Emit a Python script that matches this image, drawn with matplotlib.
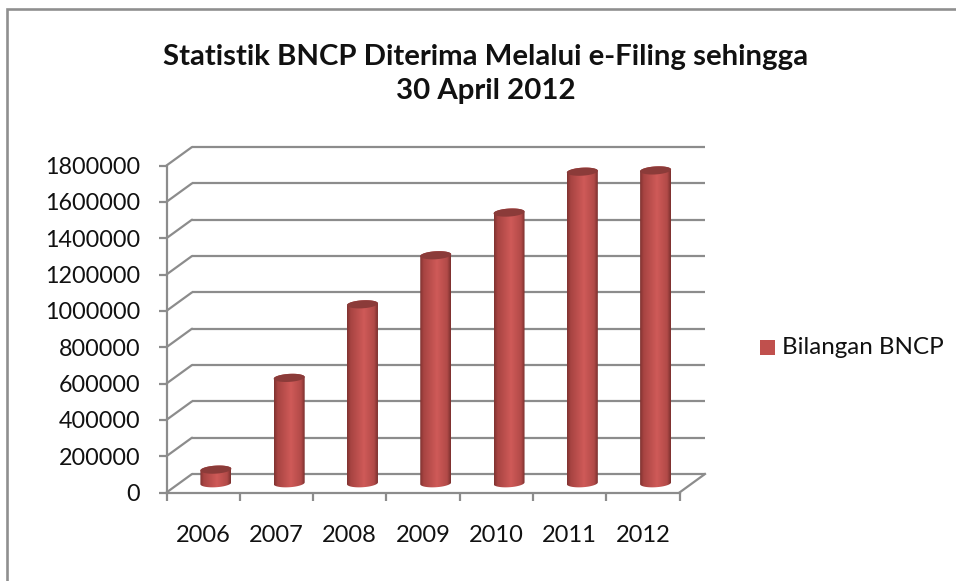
import numpy as np
import matplotlib
matplotlib.use("Agg")
import matplotlib.pyplot as plt
from matplotlib.colors import LinearSegmentedColormap
from matplotlib.patches import PathPatch, Polygon, Rectangle
from matplotlib.path import Path

years = ["2006", "2007", "2008", "2009", "2010", "2011", "2012"]
values = [75000, 580000, 985000, 1255000, 1490000, 1715000, 1722000]
yticks = [0, 200000, 400000, 600000, 800000, 1000000, 1200000, 1400000, 1600000, 1800000]
title = "Statistik BNCP Diterima Melalui e-Filing sehingga\n30 April 2012"
legend_label = "Bilangan BNCP"

W, H = 956, 581
FONT = "Lato"
GRID = "#8c8c8c"
INK = "#111111"
LW = 1.6

fig = plt.figure(figsize=(W / 100, H / 100), dpi=100, facecolor="white")
# outer chart frame: only the left and top edges are visible
fig.add_artist(plt.Line2D([6.5 / W, 6.5 / W, 1], [0, 1 - 9 / H, 1 - 9 / H], color="#8f8f8f", lw=1.9,
                          solid_capstyle="butt", solid_joinstyle="miter"))

x0, x1, ytop, ybot = 166.5, 679.5, 165.5, 492.5
ax = fig.add_axes([x0 / W, 1 - ybot / H, (x1 - x0) / W, (ybot - ytop) / H])
ax.set_xlim(-0.5, 6.5)
ax.set_ylim(0, 1800000)
ax.patch.set_visible(False)
for s in ["top", "right"]:
    ax.spines[s].set_visible(False)
for s in ["left", "bottom"]:
    ax.spines[s].set_color(GRID)
    ax.spines[s].set_linewidth(LW)

px_x = 7 / (x1 - x0)
px_y = 1800000 / (ybot - ytop)
dx = 25.5 * px_x      # depth offset in category units
dy = 18.5 * px_y      # depth offset in value units

# back wall gridlines and side-wall slants
for v in yticks:
    ax.plot([-0.5, -0.5 + dx], [v, v + dy], color=GRID, lw=LW, clip_on=False, zorder=1,
            solid_capstyle="round")
    ax.plot([-0.5 + dx, 6.5 + dx], [v + dy, v + dy], color=GRID, lw=LW, clip_on=False, zorder=1,
            solid_capstyle="butt")
ax.plot([6.5, 6.5 + dx], [0, dy], color=GRID, lw=LW, clip_on=False, zorder=1)

# cylinders
cmap = LinearSegmentedColormap.from_list(
    "cyl", [(0, "#7f3331"), (0.12, "#a84442"), (0.55, "#cf5a58"), (0.88, "#b24a48"), (1, "#7a302e")])
grad = np.linspace(0, 1, 128).reshape(1, -1)
half = 15.5 * px_x
ry = 4.0 * px_y
tilt = 0.9 * px_y     # the caps lean up to the right
off_x, off_y = dx * 0.5, dy * 0.5
for i, v in enumerate(values):
    cx = i + off_x
    base, top = off_y, v + off_y
    t = np.linspace(0, np.pi, 40)
    # lower half of the base ellipse, left to right
    bx = cx - half * np.cos(t)
    by = base - ry * np.sin(t) - tilt * np.cos(t)
    # upper half of the cap ellipse, right to left
    tx = cx + half * np.cos(t)
    ty = top + ry * np.sin(t) + tilt * np.cos(t)
    verts = np.column_stack([np.r_[bx, tx], np.r_[by, ty]])
    verts = np.vstack([verts, verts[0]])
    codes = [Path.MOVETO] + [Path.LINETO] * (len(verts) - 2) + [Path.CLOSEPOLY]
    clip = PathPatch(Path(verts, codes), transform=ax.transData, fc="none", ec="none")
    ax.add_patch(clip)
    im = ax.imshow(grad, cmap=cmap, aspect="auto", zorder=3, interpolation="bilinear",
                   extent=(cx - half, cx + half, base - ry - tilt, top + ry + tilt))
    im.set_clip_path(clip)
    tt = np.linspace(0, 2 * np.pi, 80)
    cap = np.column_stack([cx + half * np.cos(tt), top + ry * np.sin(tt) + tilt * np.cos(tt)])
    ax.add_patch(Polygon(cap, closed=True, fc="#8b3b39", ec="none", zorder=4, clip_on=False))
ax.set_xlim(-0.5, 6.5)
ax.set_ylim(0, 1800000)

ax.set_xticks(np.arange(-0.5, 7, 1))
ax.set_xticklabels([])
ax.set_yticks(yticks)
ax.set_yticklabels([str(v) for v in yticks], fontfamily=FONT, fontsize=16.8, color=INK)
ax.tick_params(axis="both", length=6, width=LW, color=GRID)
ax.tick_params(axis="y", pad=13)
for i, lab in enumerate(years):
    ax.annotate(lab, (i, 0), xytext=(0, -50), textcoords="offset pixels", ha="center", va="baseline",
                fontfamily=FONT, fontsize=17, color=INK, annotation_clip=False)

fig.text(486 / W, 1 - 74 / H, title, ha="center", va="center", fontfamily=FONT, fontweight="bold",
         fontsize=21.2, color=INK, linespacing=1.42)

fig.add_artist(Rectangle((760 / W, 1 - 355 / H), 15 / W, 15 / H, transform=fig.transFigure,
                         fc="#c0504d", ec="none"))
fig.text(782 / W, 1 - 347 / H, legend_label, ha="left", va="center", fontfamily=FONT, fontsize=17.4, color=INK)

fig.savefig("out.png", dpi=100, facecolor="white")
